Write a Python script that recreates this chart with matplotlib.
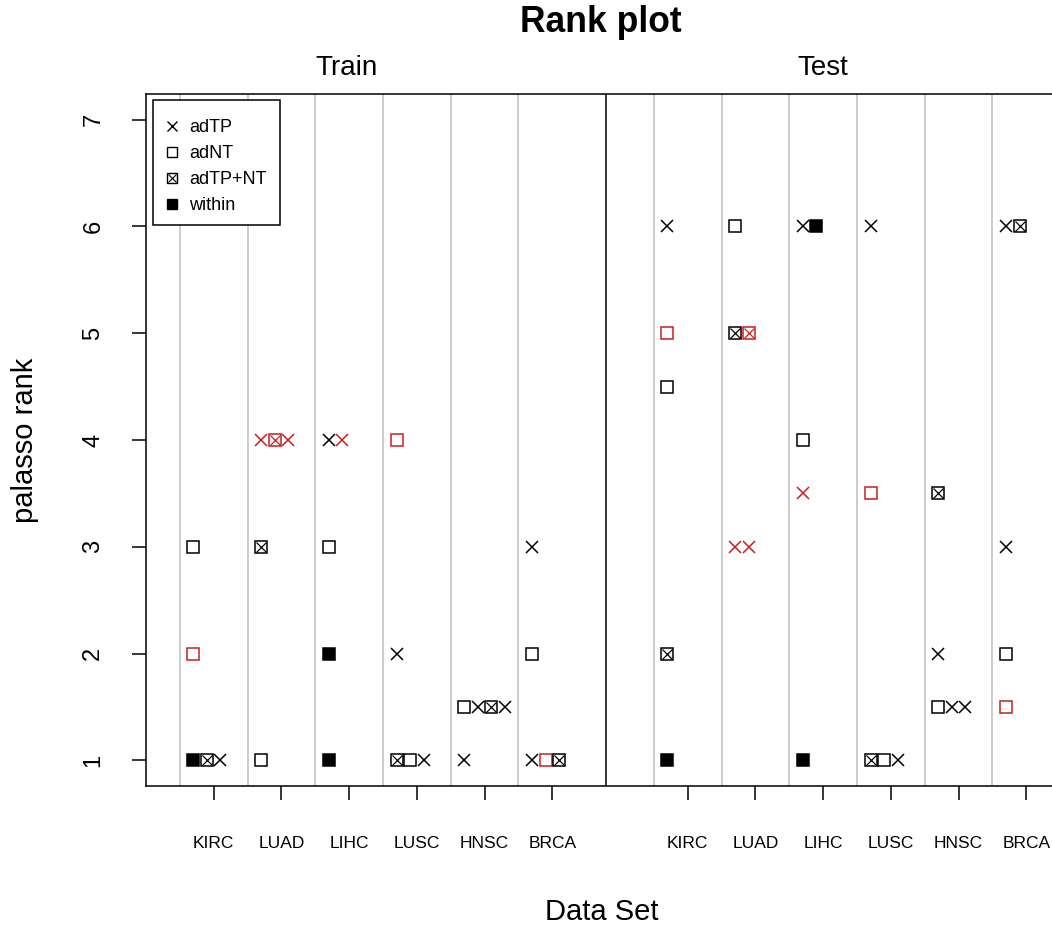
import matplotlib
matplotlib.use('Agg')
import matplotlib.pyplot as plt
from matplotlib.lines import Line2D
from matplotlib.patches import Rectangle
from matplotlib.legend_handler import HandlerTuple

plt.rcParams['font.family'] = ['Liberation Sans', 'DejaVu Sans']

datasets = ['KIRC', 'LUAD', 'LIHC', 'LUSC', 'HNSC', 'BRCA']
methods = ['adTP', 'adNT', 'adTP+NT', 'within']
ranks = [1, 2, 3, 4, 5, 6, 7]

# (dataset, method, rank, highlighted) in the order they get stacked
train_points = [
    ('KIRC', 'adNT', 3, False), ('KIRC', 'adNT', 2, True), ('KIRC', 'within', 1, False),
    ('KIRC', 'adTP+NT', 1, False), ('KIRC', 'adTP', 1, False),
    ('LUAD', 'adTP', 4, True), ('LUAD', 'adTP+NT', 4, True), ('LUAD', 'adTP', 4, True),
    ('LUAD', 'adTP+NT', 3, False), ('LUAD', 'adNT', 1, False),
    ('LIHC', 'adTP', 4, False), ('LIHC', 'adTP', 4, True), ('LIHC', 'adNT', 3, False),
    ('LIHC', 'within', 2, False), ('LIHC', 'within', 1, False),
    ('LUSC', 'adNT', 4, True), ('LUSC', 'adTP', 2, False), ('LUSC', 'adTP+NT', 1, False),
    ('LUSC', 'adNT', 1, False), ('LUSC', 'adTP', 1, False),
    ('HNSC', 'adNT', 1.5, False), ('HNSC', 'adTP', 1.5, False), ('HNSC', 'adTP+NT', 1.5, False),
    ('HNSC', 'adTP', 1.5, False), ('HNSC', 'adTP', 1, False),
    ('BRCA', 'adTP', 3, False), ('BRCA', 'adNT', 2, False), ('BRCA', 'adTP', 1, False),
    ('BRCA', 'adNT', 1, True), ('BRCA', 'adTP+NT', 1, False),
]
test_points = [
    ('KIRC', 'adTP', 6, False), ('KIRC', 'adNT', 5, True), ('KIRC', 'adNT', 4.5, False),
    ('KIRC', 'adTP+NT', 2, False), ('KIRC', 'within', 1, False),
    ('LUAD', 'adNT', 6, False), ('LUAD', 'adTP+NT', 5, False), ('LUAD', 'adTP+NT', 5, True),
    ('LUAD', 'adTP', 3, True), ('LUAD', 'adTP', 3, True),
    ('LIHC', 'adTP', 6, False), ('LIHC', 'within', 6, False), ('LIHC', 'adNT', 4, False),
    ('LIHC', 'adTP', 3.5, True), ('LIHC', 'within', 1, False),
    ('LUSC', 'adTP', 6, False), ('LUSC', 'adNT', 3.5, True), ('LUSC', 'adTP+NT', 1, False),
    ('LUSC', 'adNT', 1, False), ('LUSC', 'adTP', 1, False),
    ('HNSC', 'adTP+NT', 3.5, False), ('HNSC', 'adTP', 2, False), ('HNSC', 'adNT', 1.5, False),
    ('HNSC', 'adTP', 1.5, False), ('HNSC', 'adTP', 1.5, False),
    ('BRCA', 'adTP', 6, False), ('BRCA', 'adTP+NT', 6, False), ('BRCA', 'adTP', 3, False),
    ('BRCA', 'adNT', 2, False), ('BRCA', 'adNT', 1.5, True),
]

RED = '#C81E1E'
GREY = '#BEBEBE'
MS = 8.5
MEW = 1.1


def draw_marker(ax, x, y, method, col, ms=MS):
    if method == 'adTP':
        ax.plot(x, y, marker='x', ms=ms, mew=MEW, color=col, ls='none', zorder=3)
    elif method == 'adNT':
        ax.plot(x, y, marker='s', ms=ms, mew=MEW, mfc='white', mec=col, ls='none', zorder=3)
    elif method == 'adTP+NT':
        ax.plot(x, y, marker='s', ms=ms, mew=MEW, mfc='white', mec=col, ls='none', zorder=3)
        ax.plot(x, y, marker='x', ms=ms * 0.85, mew=MEW * 0.8, color=col, ls='none', zorder=4)
    else:
        ax.plot(x, y, marker='s', ms=ms, mew=MEW, mfc=col, mec=col, ls='none', zorder=3)


fig = plt.figure(figsize=(10.52, 9.26), dpi=100)
ax = fig.add_axes([146 / 1052, 140 / 926, (1094 - 146) / 1052, 692 / 926])

for start, pts in [(1, train_points), (8, test_points)]:
    for i in range(len(datasets)):
        ax.axvline(start + i - 0.5, color=GREY, lw=1.1, zorder=1)
    seen = {}
    for ds, m, r, hl in pts:
        tick = start + datasets.index(ds)
        k = seen.get((ds, r), 0)
        seen[(ds, r)] = k + 1
        draw_marker(ax, tick - 0.3 + 0.2 * k, r, m, RED if hl else 'black')

ax.axvline(6.8, color='black', lw=1.1, zorder=2)

ax.set_xlim(0, 14)
ax.set_ylim(0.76, 7.24)
ax.set_xticks(list(range(1, 7)) + list(range(8, 14)))
ax.set_xticklabels(datasets + datasets, fontsize=12.5)
ax.set_yticks(ranks)
ax.set_yticklabels([str(r) for r in ranks], fontsize=17, rotation=90, va='center')
ax.tick_params(axis='x', length=10, width=1.1, pad=26)
ax.tick_params(axis='y', length=10, width=1.1, pad=20)
for s in ax.spines.values():
    s.set_linewidth(1.1)

# legend box drawn separately so it gets R-style padding
ax.add_patch(Rectangle((0.0074, 0.8107), 0.134, 0.1806, transform=ax.transAxes,
                       fill=True, facecolor='white', edgecolor='black', lw=1.1, zorder=5))
handles = [
    Line2D([], [], marker='x', ms=6.5, mew=1, color='black', ls='none'),
    Line2D([], [], marker='s', ms=6.5, mew=1, mfc='white', mec='black', ls='none'),
    (Line2D([], [], marker='s', ms=6.5, mew=1, mfc='white', mec='black', ls='none'),
     Line2D([], [], marker='x', ms=5.5, mew=0.8, color='black', ls='none')),
    Line2D([], [], marker='s', ms=6.5, mew=1, color='black', ls='none'),
]
leg = ax.legend(handles, methods, loc='upper left', bbox_to_anchor=(0.019, 0.9639),
                borderaxespad=0, fontsize=13, handlelength=0.9, handletextpad=0.5,
                labelspacing=0.5, borderpad=0, frameon=False,
                handler_map={tuple: HandlerTuple(ndivide=1, pad=0)})
leg.set_zorder(6)

fig.text(0.571, 1 - 22 / 926, 'Rank plot', fontsize=25.6, fontweight='bold', ha='center', va='center')
fig.text(346 / 1052, 1 - 68 / 926, 'Train', fontsize=20, ha='center', va='center')
fig.text(823 / 1052, 1 - 68 / 926, 'Test', fontsize=20, ha='center', va='center')
fig.text(602 / 1052, 1 - 912 / 926, 'Data Set', fontsize=21, ha='center', va='center')
fig.text(25 / 1052, 1 - 440 / 926, 'palasso rank', fontsize=21, rotation=90, ha='center', va='center')

fig.savefig('out.png', dpi=100)
